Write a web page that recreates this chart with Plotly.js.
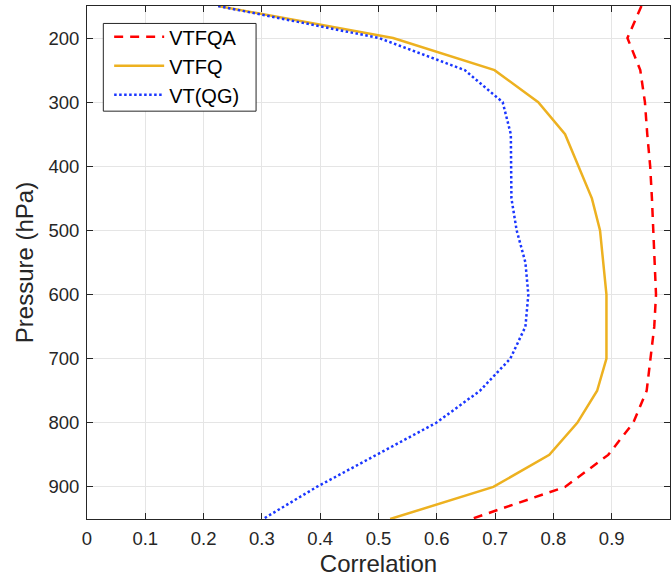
<!DOCTYPE html>
<html>
<head>
<meta charset="utf-8">
<script src="https://cdn.plot.ly/plotly-3.0.1.min.js"></script>
<style>html,body{margin:0;padding:0;background:#fff;}#chart{width:671px;height:581px;}</style>
</head>
<body>
<div id="chart"></div>
<script>
const pressure = [150,200,250,300,350,400,450,500,550,600,650,700,750,800,850,900,950];
const vtfqa = [0.951,0.927,0.949,0.957,0.961,0.966,0.969,0.971,0.974,0.976,0.973,0.966,0.960,0.937,0.894,0.820,0.659];
const vtfq  = [0.225,0.525,0.699,0.774,0.820,0.843,0.866,0.880,0.886,0.891,0.891,0.891,0.875,0.841,0.793,0.697,0.520];
const vtqg  = [0.225,0.501,0.648,0.713,0.727,0.728,0.728,0.737,0.752,0.757,0.752,0.726,0.674,0.599,0.497,0.394,0.302];
const seriesNames = ['VTFQA','VTFQ','VT(QG)'];
const xTicks = [0,0.1,0.2,0.3,0.4,0.5,0.6,0.7,0.8,0.9,1];
const yTicks = [200,300,400,500,600,700,800,900];

const traces = [
  {x: vtfqa, y: pressure, name: seriesNames[0], mode: 'lines', line: {color: '#ff0000', width: 2.5, dash: '9px,7px'}},
  {x: vtfq,  y: pressure, name: seriesNames[1], mode: 'lines', line: {color: '#EDB120', width: 2.5}},
  {x: vtqg,  y: pressure, name: seriesNames[2], mode: 'lines', line: {color: '#1a36ff', width: 2.5, dash: '2.5px,2.5px'}}
];

const axisCommon = {
  showline: true, linecolor: '#262626', linewidth: 1, mirror: 'allticks',
  ticks: 'inside', ticklen: 6, tickcolor: '#262626', tickwidth: 1,
  showgrid: true, gridcolor: '#e5e5e5', gridwidth: 1, zeroline: false,
  ticklabelstandoff: 3,
  tickfont: {family: 'Liberation Sans, Arial, sans-serif', size: 18.5, color: '#262626'}
};

const layout = {
  width: 671, height: 581,
  margin: {l: 87, r: 1, t: 6, b: 62},
  paper_bgcolor: '#ffffff', plot_bgcolor: '#ffffff',
  font: {family: 'Liberation Sans, Arial, sans-serif', color: '#262626'},
  showlegend: true,
  xaxis: Object.assign({}, axisCommon, {
    range: [0, 1], tickvals: xTicks, ticktext: xTicks.map(String),
    title: {text: 'Correlation', font: {size: 24, color: '#262626'}, standoff: 6}
  }),
  yaxis: Object.assign({}, axisCommon, {
    range: [950, 150], tickvals: yTicks, ticktext: yTicks.map(String),
    title: {text: 'Pressure (hPa)', font: {size: 24, color: '#262626'}, standoff: 8}
  }),
  legend: {
    x: 0.038, y: 0.978, xanchor: 'left', yanchor: 'top',
    bgcolor: 'rgba(0,0,0,0)', borderwidth: 0,
    font: {size: 20, color: '#000000', family: 'Liberation Sans, Arial, sans-serif'},
    itemwidth: 50, traceorder: 'normal'
  },
  shapes: [
    {type: 'rect', xref: 'paper', yref: 'paper', x0: 0.028, x1: 0.290, y0: 0.795, y1: 0.966,
     line: {color: '#262626', width: 1}, fillcolor: '#ffffff', layer: 'above'}
  ]
};

Plotly.newPlot('chart', traces, layout, {staticPlot: true, displayModeBar: false});
</script>
</body>
</html>
